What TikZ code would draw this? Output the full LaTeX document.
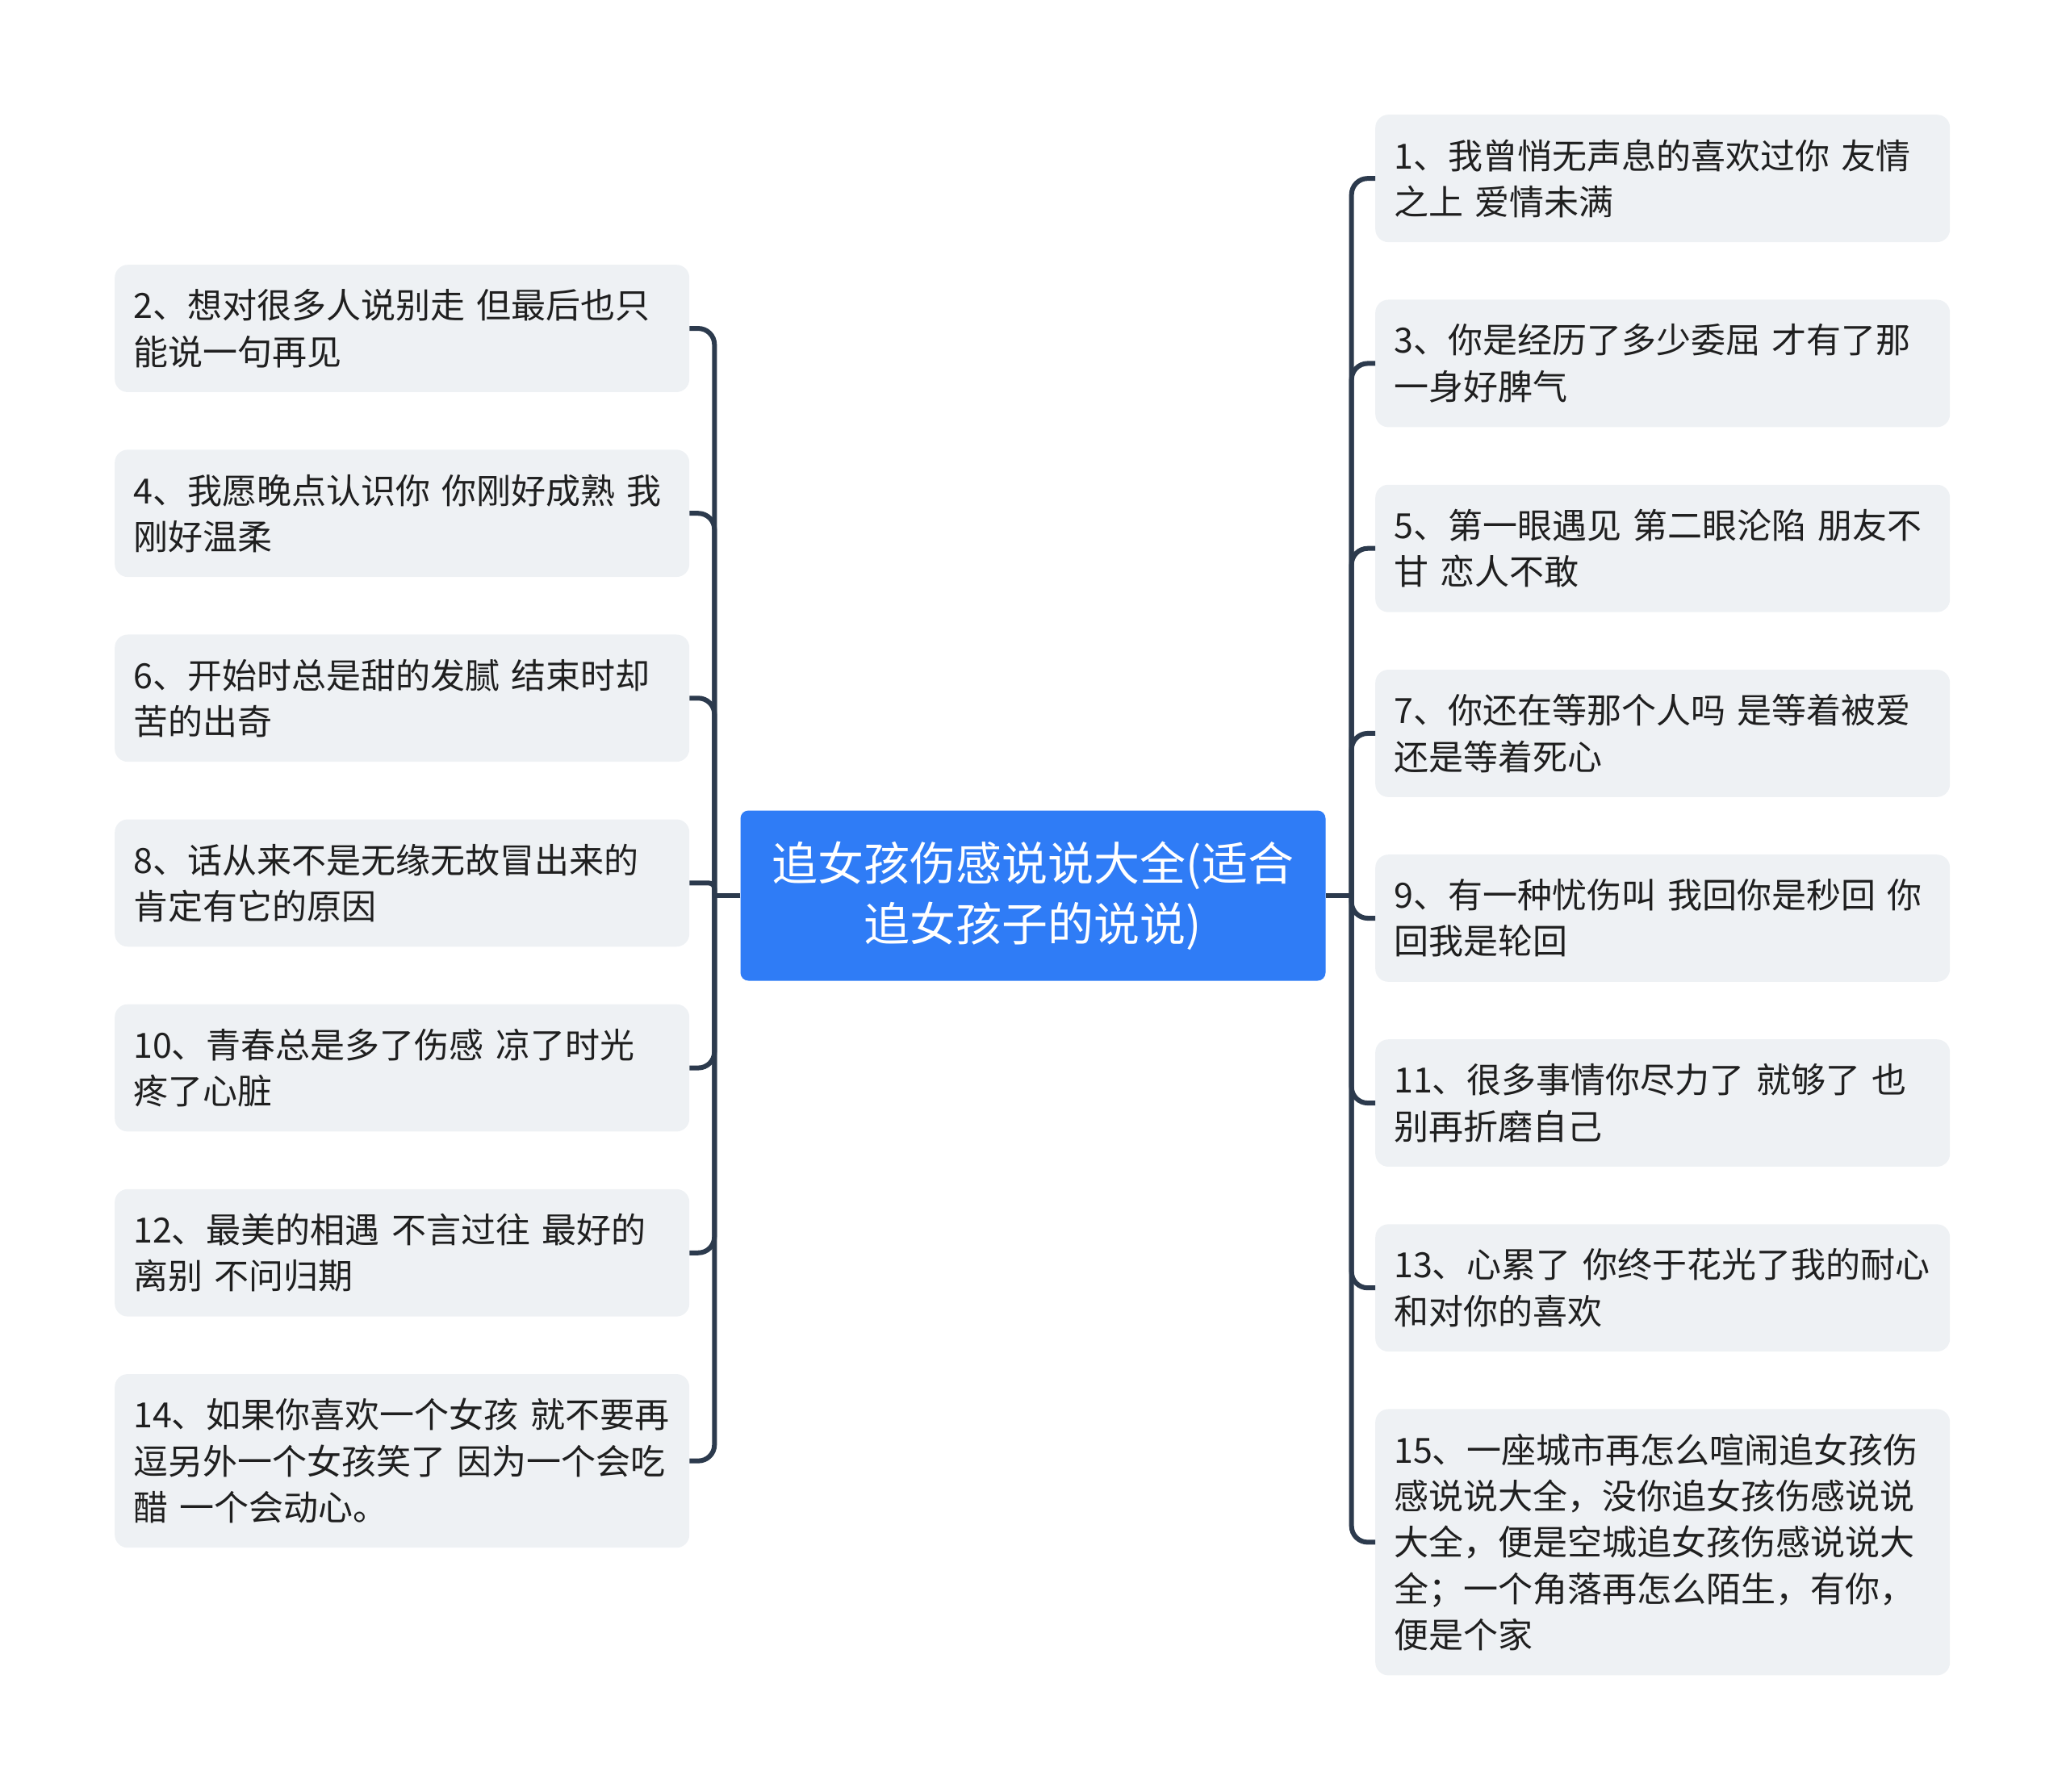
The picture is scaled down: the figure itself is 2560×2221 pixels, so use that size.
\documentclass[tikz,border=0pt]{standalone}
\usepackage{fontspec}
\setmainfont{Noto Sans CJK SC}
\usetikzlibrary{positioning}
\definecolor{rootblue}{HTML}{2F7CF6}
\definecolor{leafgray}{HTML}{EEF1F4}
\definecolor{linkslate}{HTML}{2C3A4D}
\tikzset{
  root/.style={fill=rootblue, rounded corners=10pt, text=white, align=center, minimum width=725pt, minimum height=211pt, font=\fontsize{57}{75}\selectfont},
  leaf/.style={fill=leafgray, rounded corners=16pt, text=black!88, text width=666pt, inner xsep=23pt, inner ysep=30.3pt, align=left, font=\fontsize{43}{57.3}\selectfont},
  link/.style={draw=linkslate, line width=6pt, rounded corners=20pt},
}
\begin{document}
\begin{tikzpicture}[x=1pt, y=1pt]
  \useasboundingbox (0,0) rectangle (2560,-2221);
  \node[root] (root) at (1280,-1110) {追女孩伤感说说大全(适合\\追女孩子的说说)};
  \coordinate[left=32pt of root.west] (lhub);
  \coordinate[right=32pt of root.east] (rhub);
  % right column
  \node[leaf, anchor=north west] (r1) at (1704,-142) {1、我曾悄无声息的喜欢过你 友情\\之上 爱情未满};
  \node[leaf, below=71pt of r1] (r3) {3、你是经历了多少委屈 才有了那\\一身好脾气};
  \node[leaf, below=71pt of r3] (r5) {5、第一眼遇见 第二眼沦陷 朋友不\\甘 恋人不敢};
  \node[leaf, below=71pt of r5] (r7) {7、你还在等那个人吗 是等着被爱\\还是等着死心};
  \node[leaf, below=71pt of r7] (r9) {9、有一种忧伤叫 我回你是秒回 你\\回我是轮回};
  \node[leaf, below=71pt of r9] (r11) {11、很多事情你尽力了 就够了 也\\别再折磨自己};
  \node[leaf, below=71pt of r11] (r13) {13、心累了 你终于花光了我的耐心\\和对你的喜欢};
  \node[leaf, below=71pt of r13] (r15) {15、一座城市再怎么喧闹追女孩伤\\感说说大全，没你追女孩伤感说说\\大全，便是空城追女孩伤感说说大\\全；一个角落再怎么陌生，有你，\\便是个家};
  % left column
  \node[leaf, anchor=north west] (l2) at (142,-328) {2、想对很多人说别走 但最后也只\\能说一句再见};
  \node[leaf, below=71pt of l2] (l4) {4、我愿晚点认识你 你刚好成熟 我\\刚好温柔};
  \node[leaf, below=71pt of l4] (l6) {6、开始时总是甜的发腻 结束时却\\苦的出奇};
  \node[leaf, below=71pt of l6] (l8) {8、话从来不是无缘无故冒出来的\\肯定有它的原因};
  \node[leaf, below=71pt of l8] (l10) {10、青春总是多了伤感 凉了时光\\疼了心脏};
  \node[leaf, below=71pt of l10] (l12) {12、最美的相遇 不言过往 最好的\\离别 不问归期};
  \node[leaf, below=71pt of l12] (l14) {14、如果你喜欢一个女孩 就不要再\\逗另外一个女孩笑了 因为一个会吃\\醋 一个会动心。};
  \draw[link] (root.west) -- (lhub); \draw[link] (root.east) -- (rhub);
  \draw[link] (rhub) |- (r1.west); \draw[link] (rhub) |- (r3.west); \draw[link] (rhub) |- (r5.west);
  \draw[link] (rhub) |- (r7.west); \draw[link] (rhub) |- (r9.west); \draw[link] (rhub) |- (r11.west);
  \draw[link] (rhub) |- (r13.west); \draw[link] (rhub) |- (r15.west);
  \draw[link] (lhub) |- (l2.east); \draw[link] (lhub) |- (l4.east); \draw[link] (lhub) |- (l6.east);
  \draw[link, rounded corners=7pt] (lhub) |- (l8.east); \draw[link] (lhub) |- (l10.east);
  \draw[link] (lhub) |- (l12.east); \draw[link] (lhub) |- (l14.east);
\end{tikzpicture}
\end{document}
